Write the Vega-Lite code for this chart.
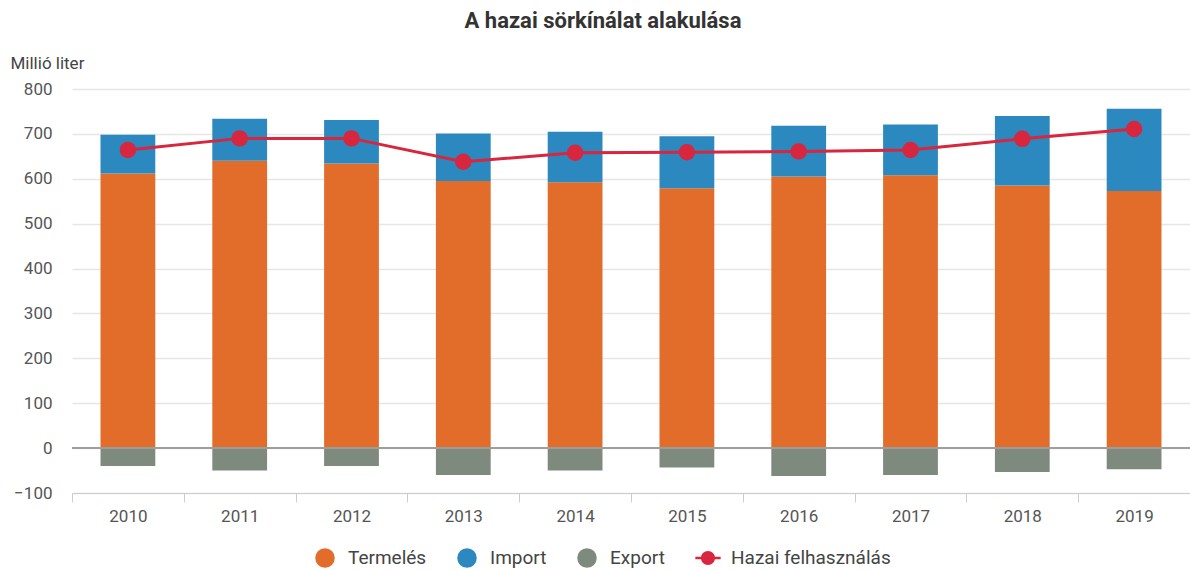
{
  "$schema": "https://vega.github.io/schema/vega-lite/v6.json",
  "width": 1118,
  "height": 404,
  "autosize": "none",
  "padding": {"left": 72, "top": 89, "right": 0, "bottom": 77},
  "config": {"font": "Roboto", "view": {"stroke": null}},
  "title": {
    "text": "A hazai sörkínálat alakulása",
    "fontSize": 22,
    "fontWeight": "bold",
    "color": "#333333",
    "anchor": "middle",
    "frame": "group",
    "dx": -28,
    "offset": 21
  },
  "datasets": {
    "bars": [
      {"year": "2010", "series": "Termelés", "value": 612},
      {"year": "2010", "series": "Import", "value": 86},
      {"year": "2010", "series": "Export", "value": -40},
      {"year": "2011", "series": "Termelés", "value": 640},
      {"year": "2011", "series": "Import", "value": 94},
      {"year": "2011", "series": "Export", "value": -50},
      {"year": "2012", "series": "Termelés", "value": 634},
      {"year": "2012", "series": "Import", "value": 97},
      {"year": "2012", "series": "Export", "value": -40},
      {"year": "2013", "series": "Termelés", "value": 595},
      {"year": "2013", "series": "Import", "value": 106},
      {"year": "2013", "series": "Export", "value": -60},
      {"year": "2014", "series": "Termelés", "value": 592},
      {"year": "2014", "series": "Import", "value": 113},
      {"year": "2014", "series": "Export", "value": -50},
      {"year": "2015", "series": "Termelés", "value": 579},
      {"year": "2015", "series": "Import", "value": 116},
      {"year": "2015", "series": "Export", "value": -43},
      {"year": "2016", "series": "Termelés", "value": 605},
      {"year": "2016", "series": "Import", "value": 113},
      {"year": "2016", "series": "Export", "value": -62},
      {"year": "2017", "series": "Termelés", "value": 608},
      {"year": "2017", "series": "Import", "value": 113},
      {"year": "2017", "series": "Export", "value": -60},
      {"year": "2018", "series": "Termelés", "value": 585},
      {"year": "2018", "series": "Import", "value": 155},
      {"year": "2018", "series": "Export", "value": -53},
      {"year": "2019", "series": "Termelés", "value": 573},
      {"year": "2019", "series": "Import", "value": 183},
      {"year": "2019", "series": "Export", "value": -47}
    ],
    "line": [
      {"year": "2010", "series": "Hazai felhasználás", "value": 664},
      {"year": "2011", "series": "Hazai felhasználás", "value": 690},
      {"year": "2012", "series": "Hazai felhasználás", "value": 690},
      {"year": "2013", "series": "Hazai felhasználás", "value": 638},
      {"year": "2014", "series": "Hazai felhasználás", "value": 658},
      {"year": "2015", "series": "Hazai felhasználás", "value": 659},
      {"year": "2016", "series": "Hazai felhasználás", "value": 661},
      {"year": "2017", "series": "Hazai felhasználás", "value": 664},
      {"year": "2018", "series": "Hazai felhasználás", "value": 689},
      {"year": "2019", "series": "Hazai felhasználás", "value": 711}
    ]
  },
  "encoding": {
    "x": {
      "field": "year",
      "type": "nominal",
      "scale": {"paddingInner": 0, "paddingOuter": 0},
      "axis": {
        "title": null,
        "labelAngle": 0,
        "labelFontSize": 17,
        "labelColor": "#555555",
        "labelPadding": 6,
        "tickBand": "extent",
        "tickSize": 9,
        "tickColor": "#cccccc",
        "domainColor": "#cccccc",
        "grid": false
      }
    },
    "y": {
      "field": "value",
      "type": "quantitative",
      "scale": {"domain": [-100, 800], "nice": false},
      "axis": {
        "values": [-100, 0, 100, 200, 300, 400, 500, 600, 700, 800],
        "grid": true,
        "gridColor": "#e6e6e6",
        "gridWidth": 1.5,
        "domain": false,
        "ticks": false,
        "labelPadding": 20,
        "labelFontSize": 17,
        "labelColor": "#555555",
        "title": "Millió liter",
        "titleAngle": 0,
        "titleAlign": "left",
        "titleBaseline": "alphabetic",
        "titleX": -62,
        "titleY": -21,
        "titleFontSize": 17,
        "titleFontWeight": "normal",
        "titleColor": "#444444"
      }
    }
  },
  "layer": [
    {
      "data": {"name": "bars"},
      "mark": {"type": "bar", "width": {"band": 0.49}},
      "encoding": {
        "y": {"field": "value", "type": "quantitative", "stack": "zero"},
        "color": {
          "field": "series",
          "type": "nominal",
          "scale": {
            "domain": ["Termelés", "Import", "Export", "Hazai felhasználás"],
            "range": ["#E26C29", "#2B89BF", "#7E8A7E", "#D7263D"]
          },
          "legend": {
            "orient": "none",
            "legendX": 243,
            "legendY": 459,
            "direction": "horizontal",
            "title": null,
            "padding": 0,
            "symbolType": "circle",
            "symbolSize": 380,
            "symbolStrokeWidth": 0,
            "symbolOpacity": 1,
            "labelFontSize": 19,
            "labelColor": "#444444",
            "labelOffset": 13,
            "columnPadding": 30,
            "encode": {
              "symbols": {
                "update": {
                  "shape": {"signal": "datum.value === 'Hazai felhasználás' ? 'M-1.3,-0.14L1.3,-0.14L1.3,0.14L-1.3,0.14Z M0.72,0A0.72,0.72,0,1,1,-0.72,0A0.72,0.72,0,1,1,0.72,0Z' : 'circle'"}
                }
              }
            }
          }
        },
        "order": {"field": "series", "sort": "descending"}
      }
    },
    {
      "data": {"name": "bars"},
      "mark": {"type": "rule", "color": "#9e9e9e", "strokeWidth": 1.5},
      "encoding": {"y": {"datum": 0}, "x": null}
    },
    {
      "data": {"name": "line"},
      "mark": {"type": "line", "strokeWidth": 3},
      "encoding": {
        "color": {"field": "series", "type": "nominal"}
      }
    },
    {
      "data": {"name": "line"},
      "mark": {"type": "point", "filled": true, "size": 270, "opacity": 1},
      "encoding": {
        "color": {"field": "series", "type": "nominal"}
      }
    }
  ]
}
